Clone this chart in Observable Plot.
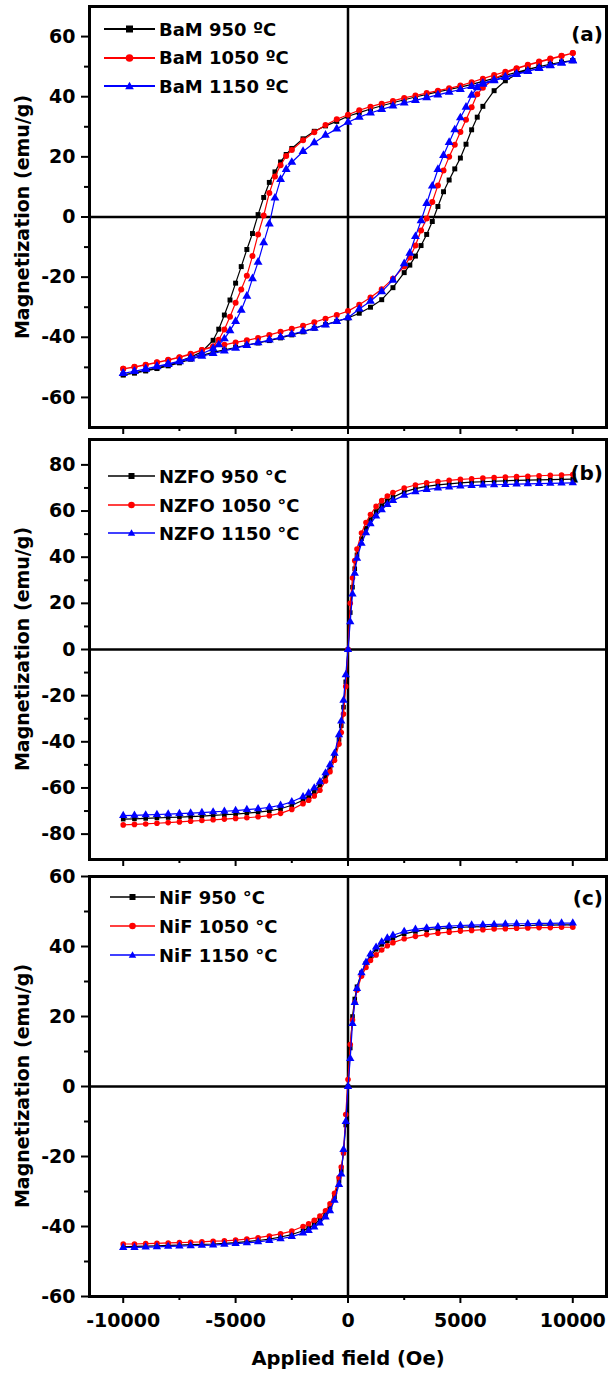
<!DOCTYPE html>
<html>
<head>
<meta charset="utf-8">
<script src="https://cdn.jsdelivr.net/npm/d3@7"></script>
<script src="https://cdn.jsdelivr.net/npm/@observablehq/plot@0.6"></script>
<style>
  html, body { margin: 0; padding: 0; background: #ffffff; }
  #wrap { position: relative; width: 609px; height: 1373px; overflow: hidden; font-family: 'DejaVu Sans', sans-serif; font-weight: bold; color: #000; }
  #wrap svg.panel { position: absolute; left: 0; overflow: visible; }
  .ytitle { position: absolute; font-size: 19px; white-space: nowrap; transform: translate(-50%, -50%) rotate(-90deg); }
  .xtitle { position: absolute; font-size: 19.5px; white-space: nowrap; transform: translate(-50%, -50%); }
  .tag { position: absolute; font-size: 20px; white-space: nowrap; transform: translate(-100%, -50%); }
  .leg { position: absolute; display: flex; align-items: center; height: 20px; font-size: 18px; white-space: nowrap; }
  .leg svg { display: block; }
  .leg span { margin-left: 4px; }
</style>
</head>
<body>
<div id="wrap"></div>
<script>
// ---------- Panel (a): BaM hysteresis loops ----------
const fieldUpA = [10000, 9500, 9000, 8500, 8000, 7500, 7000, 6500, 6000, 5500, 5000, 4500, 4000, 3500, 3000, 2500, 2000, 1500, 1000, 500, 0, -500, -1000, -1500, -2000, -2500, -2750, -3000, -3250, -3500, -3750, -4000, -4250, -4500, -4750, -5000, -5250, -5500, -5750, -6000, -6500, -7000, -7500, -8000, -8500, -9000, -9500, -10000];
const fieldLowA = [-10000, -9500, -9000, -8500, -8000, -7500, -7000, -6500, -6000, -5500, -5000, -4500, -4000, -3500, -3000, -2500, -2000, -1500, -1000, -500, 0, 500, 1000, 1500, 2000, 2500, 2750, 3000, 3250, 3500, 3750, 4000, 4250, 4500, 4750, 5000, 5250, 5500, 5750, 6000, 6500, 7000, 7500, 8000, 8500, 9000, 9500, 10000];

const bam950Up = [52, 51.5, 50.8, 50, 49.1, 48.1, 47.1, 46.1, 45.1, 44.1, 43.2, 42.4, 41.6, 40.8, 39.9, 39, 38, 37, 35.9, 34.7, 33.5, 31.8, 30.3, 28.5, 26, 22.8, 20.8, 18.3, 15, 11.5, 6.5, 0.8, -5.5, -10.8, -16.5, -22, -27.6, -32.6, -37.3, -41, -44.8, -46.6, -48, -49.2, -50.2, -51, -51.8, -52.5];
const bam950Low = [-52.5, -51.9, -51.2, -50.4, -49.5, -48.5, -47.3, -46, -45, -44.2, -43.4, -42.6, -41.9, -41.1, -40.2, -39.2, -38.2, -37, -35.8, -34.7, -33.6, -32, -30, -27.5, -23.5, -18.5, -16, -13, -9.5, -5.8, -1.5, 3.5, 8.4, 12.3, 16, 19.6, 24.2, 29, 33.2, 36.8, 42, 45.3, 47.5, 49, 50, 50.8, 51.5, 52];

const bam1050Up = [54.5, 53.6, 52.7, 51.7, 50.6, 49.5, 48.3, 47.2, 46, 44.8, 43.7, 42.8, 42, 41.2, 40.4, 39.6, 38.6, 37.7, 36.7, 35.5, 34, 32.5, 30.6, 28.2, 25.5, 22.3, 20.3, 17.2, 13.5, 8, 0.5, -5.8, -13, -19.5, -24.1, -28.5, -33.2, -37.4, -40.8, -43, -44.2, -45.5, -46.6, -47.5, -48.3, -49.1, -49.8, -50.5];
const bam1050Low = [-50.5, -49.9, -49.2, -48.4, -47.6, -46.7, -45.7, -44.2, -43.3, -42.5, -41.7, -41, -40.2, -39.2, -38.2, -37.2, -36.2, -35, -33.8, -32.6, -31.3, -29.2, -26.8, -24, -20.5, -16.5, -13.5, -9.5, -4.5, -0.5, 5, 10.5, 15.5, 20, 24, 28.3, 32.3, 36.5, 40.8, 43, 46, 47.8, 49.3, 50.5, 51.5, 52.5, 53.5, 54.5];

const bam1150Up = [52, 51.2, 50.4, 49.5, 48.5, 47.6, 46.6, 45.6, 44.5, 43.4, 42.4, 41.5, 40.6, 39.7, 38.8, 37.9, 36.9, 35.8, 34.6, 33.2, 31.5, 29.3, 27.2, 24.7, 21.8, 18.2, 15.8, 12.5, 6.3, -2.3, -8.5, -15, -20.5, -26.3, -31, -34.7, -37.8, -40.5, -42.5, -43.8, -45.5, -46.8, -47.9, -48.8, -49.7, -50.5, -51.3, -52];
const bam1150Low = [-52, -51.3, -50.6, -49.8, -49, -48.1, -47.2, -46.3, -45.4, -44.5, -43.6, -42.7, -41.8, -40.9, -40, -39, -38, -37, -35.9, -34.7, -33.5, -30.6, -28, -24.8, -21, -15.5, -12, -6.5, -1.2, 4.5, 10.3, 15.8, 20.5, 24.8, 29, 33, 36.5, 40.5, 43, 44.2, 45.3, 46.4, 47.4, 48.4, 49.4, 50.3, 51.2, 52];

// ---------- Panels (b) and (c): shared field grid ----------
const fieldBC = [-10000, -9500, -9000, -8500, -8000, -7500, -7000, -6500, -6000, -5500, -5000, -4500, -4000, -3500, -3000, -2500, -2000, -1750, -1500, -1250, -1000, -800, -600, -400, -300, -200, -100, 0, 100, 200, 300, 400, 600, 800, 1000, 1250, 1500, 1750, 2000, 2500, 3000, 3500, 4000, 4500, 5000, 5500, 6000, 6500, 7000, 7500, 8000, 8500, 9000, 9500, 10000];

const nzfo950 = [-73.5, -73.4, -73.2, -73, -72.8, -72.6, -72.4, -72.2, -71.9, -71.6, -71.3, -70.9, -70.5, -69.9, -69, -67.5, -65.3, -63.7, -61.6, -58.8, -55, -51.5, -46.5, -39, -33, -25, -14, 0, 16, 27, 35, 41, 48, 52.5, 56.3, 59.8, 62.4, 64.5, 66, 68.3, 69.7, 70.7, 71.3, 71.8, 72.2, 72.5, 72.7, 72.9, 73.1, 73.3, 73.4, 73.5, 73.6, 73.7, 73.8];
const nzfo1050 = [-76, -75.8, -75.6, -75.3, -75, -74.7, -74.4, -74.1, -73.8, -73.5, -73.2, -72.9, -72.5, -72, -71, -69.3, -66.8, -65.3, -63.5, -61, -57, -53, -48, -41, -36, -28, -16, 0, 20, 31, 38.5, 43.5, 50.5, 55, 58.5, 62, 64.5, 66.5, 68, 70, 71.3, 72.2, 72.8, 73.3, 73.7, 74, 74.3, 74.5, 74.7, 74.9, 75.1, 75.3, 75.5, 75.6, 75.8];
const nzfo1150 = [-72, -71.9, -71.7, -71.5, -71.3, -71.1, -70.9, -70.7, -70.4, -70.1, -69.8, -69.4, -69, -68.4, -67.5, -66, -63.8, -62.2, -60, -57.3, -53.5, -50, -45, -37, -31, -22, -11, 0, 12, 24, 33, 39.5, 46, 50.5, 54.5, 57.8, 60.5, 62.8, 64.5, 66.8, 68.3, 69.3, 69.9, 70.4, 70.8, 71, 71.2, 71.4, 71.5, 71.7, 71.8, 71.9, 72, 72.1, 72.2];

const nif950 = [-45.8, -45.7, -45.6, -45.5, -45.4, -45.3, -45.2, -45.1, -45, -44.8, -44.6, -44.3, -44, -43.6, -43, -42.3, -41.2, -40.4, -39.4, -38.1, -36.4, -34.5, -31.5, -27, -24, -19, -11, 0, 11, 20, 25, 28.5, 32.5, 35.2, 37.3, 39.2, 40.6, 41.6, 42.4, 43.6, 44.3, 44.8, 45.1, 45.3, 45.5, 45.6, 45.7, 45.8, 45.9, 46, 46, 46.1, 46.1, 46.2, 46.2];
const nif1050 = [-45, -45, -44.9, -44.8, -44.7, -44.6, -44.5, -44.4, -44.2, -44.1, -43.9, -43.6, -43.2, -42.7, -42.1, -41.3, -40, -39.2, -38.2, -37, -35.5, -33.5, -30.5, -26, -23, -19, -8, 2, 12, 19, 24, 27.5, 31.5, 34, 36, 37.6, 39, 40.2, 41.1, 42.2, 42.9, 43.4, 43.8, 44.1, 44.4, 44.6, 44.8, 45, 45.1, 45.2, 45.3, 45.4, 45.4, 45.5, 45.5];
const nif1150 = [-46, -46, -45.9, -45.8, -45.7, -45.6, -45.5, -45.4, -45.3, -45.1, -44.9, -44.7, -44.4, -44, -43.5, -42.9, -41.9, -41.2, -40.2, -39, -37.3, -35.5, -32.5, -28, -25, -18, -10, 0, 8, 18, 24, 28, 32.5, 35.5, 37.8, 39.8, 41.3, 42.4, 43.2, 44.3, 44.9, 45.3, 45.6, 45.8, 46, 46.1, 46.2, 46.3, 46.4, 46.5, 46.5, 46.6, 46.6, 46.7, 46.7];

// ---------- Labels and ticks ----------
const legendA = ["BaM 950 \u00baC", "BaM 1050 \u00baC", "BaM 1150 \u00baC"];
const legendB = ["NZFO 950 \u00b0C", "NZFO 1050 \u00b0C", "NZFO 1150 \u00b0C"];
const legendC = ["NiF 950 \u00b0C", "NiF 1050 \u00b0C", "NiF 1150 \u00b0C"];
const panelTags = ["(a)", "(b)", "(c)"];
const yTitle = "Magnetization (emu/g)";
const xTitle = "Applied field (Oe)";

const xMajor = [-10000, -5000, 0, 5000, 10000];
const xMinor = [-7500, -2500, 2500, 7500];
const yMajorA = [-60, -40, -20, 0, 20, 40, 60];
const yMinorA = [-50, -30, -10, 10, 30, 50];
const yMajorB = [-80, -60, -40, -20, 0, 20, 40, 60, 80];
const yMinorB = [-70, -50, -30, -10, 10, 30, 50, 70];
const yMajorC = [-60, -40, -20, 0, 20, 40, 60];
const yMinorC = [-50, -30, -10, 10, 30, 50];

// ---------- Build ----------
const colors = ["#000000", "#ff0000", "#0000ff"];
const symbols = ["square", "circle", "triangle"];
const rows = (field, vals) => field.map((H, i) => ({H, M: vals[i]}));

const wrap = document.getElementById("wrap");

function makePanel(cfg) {
  const marks = [
    Plot.ruleY([0], {stroke: "#000", strokeWidth: 2.5}),
    Plot.ruleX([0], {stroke: "#000", strokeWidth: 2.5})
  ];
  cfg.series.forEach((data, i) => {
    marks.push(Plot.line(data, {x: "H", y: "M", stroke: colors[i], strokeWidth: 1.2}));
    marks.push(Plot.dot(data, {x: "H", y: "M", symbol: symbols[i], fill: colors[i], stroke: "none", r: cfg.r[i]}));
  });
  marks.push(Plot.frame({stroke: "#000", strokeWidth: 3}));
  marks.push(Plot.axisY({ticks: cfg.yMajor, tickSize: 8, tickPadding: 6, strokeWidth: 2, tickFormat: d => String(d), label: null}));
  marks.push(Plot.axisY({ticks: cfg.yMinor, tickSize: 5, strokeWidth: 2, tickFormat: () => "", label: null}));
  marks.push(Plot.axisX({ticks: xMajor, tickSize: 7, tickPadding: 10, strokeWidth: 2, tickFormat: cfg.xLabels ? (d => String(d)) : (() => ""), label: null}));
  marks.push(Plot.axisX({ticks: xMinor, tickSize: 4, strokeWidth: 2, tickFormat: () => "", label: null}));
  const svg = Plot.plot({
    width: 609,
    height: cfg.height,
    marginLeft: 89,
    marginRight: 3,
    marginTop: cfg.mTop,
    marginBottom: cfg.mBottom,
    x: {domain: [-11500, 11500]},
    y: {domain: cfg.yDomain},
    style: {fontFamily: "'DejaVu Sans', sans-serif", fontSize: "19px", fontWeight: "bold", color: "#000", background: "transparent", overflow: "visible"},
    marks
  });
  svg.classList.add("panel");
  svg.style.top = cfg.top + "px";
  svg.style.position = "absolute";
  wrap.appendChild(svg);

  const t = document.createElement("div");
  t.className = "ytitle";
  t.textContent = yTitle;
  t.style.left = "22px";
  t.style.top = cfg.titleY + "px";
  wrap.appendChild(t);

  const g = document.createElement("div");
  g.className = "tag";
  g.textContent = cfg.tag;
  g.style.left = "603px";
  g.style.top = cfg.tagY + "px";
  wrap.appendChild(g);

  cfg.legend.forEach((label, i) => {
    const row = document.createElement("div");
    row.className = "leg";
    row.style.left = cfg.legLeft + "px";
    row.style.top = (cfg.legY[i] - 10) + "px";
    const w = 155 - cfg.legLeft;
    const s = cfg.legMarker;
    let mk = "";
    const c = colors[i], cx = w / 2, cy = 10;
    if (i === 0) mk = `<rect x="${cx - s / 2}" y="${cy - s / 2}" width="${s}" height="${s}" fill="${c}"/>`;
    if (i === 1) mk = `<circle cx="${cx}" cy="${cy}" r="${s / 2 + 0.3}" fill="${c}"/>`;
    if (i === 2) mk = `<path d="M${cx},${cy - s * 0.62} L${cx + s * 0.62},${cy + s * 0.45} L${cx - s * 0.62},${cy + s * 0.45} Z" fill="${c}"/>`;
    row.innerHTML = `<svg width="${w}" height="20"><line x1="0" x2="${w}" y1="10" y2="10" stroke="${c}" stroke-width="${cfg.legStroke}"/>${mk}</svg><span>${label}</span>`;
    wrap.appendChild(row);
  });
}

makePanel({
  top: 0, height: 437, mTop: 6, mBottom: 10, yDomain: [-70, 70],
  yMajor: yMajorA, yMinor: yMinorA, xLabels: false,
  series: [
    rows(fieldUpA, bam950Up).concat(rows(fieldLowA, bam950Low)),
    rows(fieldUpA, bam1050Up).concat(rows(fieldLowA, bam1050Low)),
    rows(fieldUpA, bam1150Up).concat(rows(fieldLowA, bam1150Low))
  ],
  r: [2.8, 3, 3.3],
  titleY: 217, tag: panelTags[0], tagY: 34,
  legend: legendA, legLeft: 104, legY: [29, 57.5, 86], legMarker: 7, legStroke: 2
});

makePanel({
  top: 437, height: 437, mTop: 2, mBottom: 15, yDomain: [-91, 91],
  yMajor: yMajorB, yMinor: yMinorB, xLabels: false,
  series: [rows(fieldBC, nzfo950), rows(fieldBC, nzfo1050), rows(fieldBC, nzfo1150)],
  r: [2.6, 2.8, 3.1],
  titleY: 649, tag: panelTags[1], tagY: 473,
  legend: legendB, legLeft: 108, legY: [476, 505, 533], legMarker: 6, legStroke: 1.5
});

makePanel({
  top: 874, height: 499, mTop: 2, mBottom: 77, yDomain: [-60, 60],
  yMajor: yMajorC, yMinor: yMinorC, xLabels: true,
  series: [rows(fieldBC, nif950), rows(fieldBC, nif1050), rows(fieldBC, nif1150)],
  r: [2.6, 2.8, 3.1],
  titleY: 1086, tag: panelTags[2], tagY: 898,
  legend: legendC, legLeft: 110, legY: [897, 926, 955], legMarker: 6, legStroke: 1.5
});

const xt = document.createElement("div");
xt.className = "xtitle";
xt.textContent = xTitle;
xt.style.left = "348px";
xt.style.top = "1358px";
wrap.appendChild(xt);
</script>
</body>
</html>
